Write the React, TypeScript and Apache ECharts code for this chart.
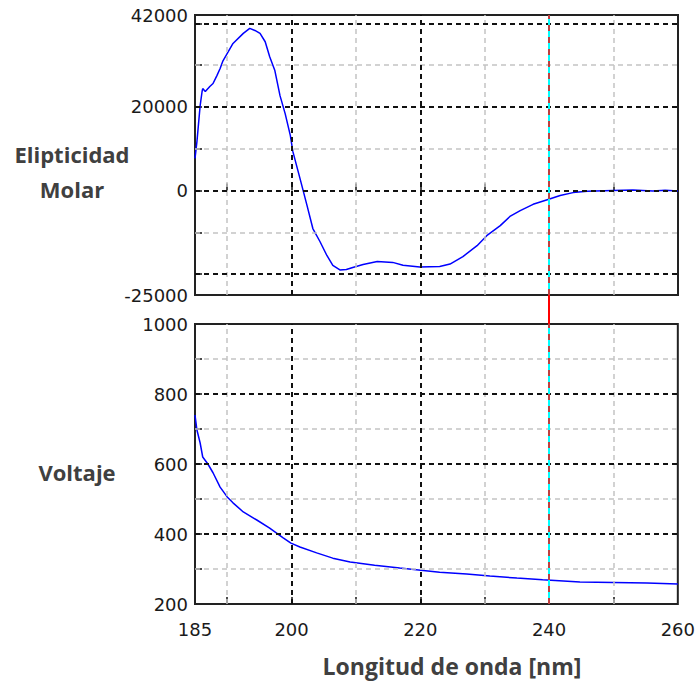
import React, { useEffect, useRef } from "react";
import * as echarts from "echarts";

// ---- Data ----
const cdWavelength = [
  185.0, 185.3, 185.8, 186.1, 186.2, 186.6, 187.3, 187.8, 188.4, 188.9, 189.3,
  190.9, 192.5, 193.5, 194.3, 195.1, 195.9, 196.6, 197.4, 198.2, 199.0, 199.8,
  200.2, 201.3, 202.4, 203.3, 204.4, 205.5, 206.4, 207.5, 208.5, 209.5, 211.1,
  213.3, 215.7, 217.3, 219.9, 223.0, 224.6, 226.6, 228.8, 230.3, 232.4, 233.9,
  235.5, 237.5, 239.7, 241.7, 243.7, 245.9, 249.9, 253.0, 256.1, 258.0, 260.0,
];
const cdValues = [
  7700, 11700, 20300, 23700, 24400, 23700, 24900, 25600, 27500, 29200, 30900,
  35200, 37600, 38800, 38300, 37600, 35600, 32000, 28700, 22700, 18400, 13200,
  9300, 2900, -3600, -9100, -12200, -15600, -17900, -19000, -18900, -18400, -17700,
  -17000, -17200, -17900, -18300, -18200, -17600, -15800, -13200, -10800, -8400, -6200,
  -4800, -3300, -2200, -1200, -500, -200, 0, 100, -100, 50, -100,
];

const voltWavelength = [
  185.0, 185.3, 185.8, 186.2, 187.0, 187.8, 188.9, 190.0, 190.9, 192.5, 194.6,
  196.6, 198.7, 199.9, 201.3, 203.9, 206.4, 209.1, 212.9, 216.8, 223.0, 227.2,
  230.8, 235.0, 239.0, 244.8, 255.2, 260.0,
];
const voltValues = [
  740, 697, 660, 620, 600, 575, 534, 506, 489, 463, 440,
  417, 389, 374, 363, 346, 331, 320, 311, 303, 291, 286,
  280, 274, 269, 263, 260, 257,
];

const xTickValues = [190, 200, 210, 220, 230, 240, 250];
const xLabelValues = [185, 200, 220, 240, 260];
const xMajorGrid = [200, 220, 240];
const xMinorGrid = [190, 210, 230, 250];

const cdTickValues = [-20000, -10000, 0, 10000, 20000, 30000, 40000];
const cdLabelValues = [-25000, 0, 20000, 42000];
const cdMajorGrid = [-20000, 0, 20000, 40000];
const cdMinorGrid = [-10000, 10000, 30000];

const voltTickValues = [300, 400, 500, 600, 700, 800, 900];
const voltLabelValues = [200, 400, 600, 800, 1000];
const voltMajorGrid = [400, 600, 800];
const voltMinorGrid = [300, 500, 700, 900];

const cursorWavelength = 240;

const topYLabel = ["Elipticidad", "Molar"];
const bottomYLabel = "Voltaje";
const xAxisTitle = "Longitud de onda [nm]";

// ---- Styles ----
const majorStyle = { color: "#111", width: 2, type: [5, 4] as any };
const minorStyle = { color: "#c4c4c4", width: 1.5, type: [5, 4] as any };
const labelFont = {
  fontFamily: "DejaVu Sans",
  fontSize: 18,
  color: "#1a1a1a",
};
const titleFont = {
  fontFamily: "Open Sans",
  fontWeight: "bold",
  fontSize: 22,
  fill: "#404040",
};

function gridMarkLine(xMaj: number[], xMin: number[], yMaj: number[], yMin: number[]) {
  return {
    silent: true,
    symbol: ["none", "none"],
    label: { show: false },
    animation: false,
    data: [
      ...yMin.map((v) => ({ yAxis: v, lineStyle: minorStyle })),
      ...xMin.map((v) => ({ xAxis: v, lineStyle: minorStyle })),
      ...yMaj.map((v) => ({ yAxis: v, lineStyle: majorStyle })),
      ...xMaj.map((v) => ({ xAxis: v, lineStyle: majorStyle })),
    ],
  };
}

function cursorMarkLine() {
  return {
    silent: true,
    symbol: ["none", "none"],
    label: { show: false },
    animation: false,
    data: [
      { xAxis: cursorWavelength, lineStyle: { color: "#00ffff", width: 2, type: "solid" } },
      { xAxis: cursorWavelength, lineStyle: { color: "#ff0000", width: 1.5, type: [6, 6] } },
    ],
  };
}

export default function App() {
  const ref = useRef<HTMLDivElement>(null);

  useEffect(() => {
    if (!ref.current) return;
    const chart = echarts.init(ref.current, null, { renderer: "svg" });

    const xBase = {
      type: "value",
      min: 185,
      max: 260,
      axisLine: { show: false },
      splitLine: { show: false },
      axisTick: {
        show: true,
        inside: true,
        length: 7,
        customValues: xTickValues,
        lineStyle: { color: "#111", width: 1.5 },
      },
    };

    const option: any = {
      animation: false,
      backgroundColor: "#ffffff",
      grid: [
        { left: 195, top: 15, width: 483, height: 280, show: true, borderColor: "#222", borderWidth: 2, backgroundColor: "transparent" },
        { left: 195, top: 324, width: 483, height: 280, show: true, borderColor: "#222", borderWidth: 2, backgroundColor: "transparent" },
        { left: 195, top: 15, width: 483, height: 589, show: false },
      ],
      xAxis: [
        { ...xBase, gridIndex: 0, axisLabel: { show: false } },
        {
          ...xBase,
          gridIndex: 1,
          axisLabel: {
            show: true,
            customValues: xLabelValues,
            margin: 16,
            formatter: (v: number) => String(v),
            ...labelFont,
          },
        },
        { type: "value", gridIndex: 2, min: 185, max: 260, show: false },
      ],
      yAxis: [
        {
          type: "value",
          gridIndex: 0,
          min: -25000,
          max: 42000,
          axisLine: { show: false },
          splitLine: { show: false },
          axisTick: {
            show: true,
            inside: true,
            length: 7,
            customValues: cdTickValues,
            lineStyle: { color: "#111", width: 1.5 },
          },
          axisLabel: {
            show: true,
            customValues: cdLabelValues,
            margin: 7,
            formatter: (v: number) => String(v),
            ...labelFont,
          },
        },
        {
          type: "value",
          gridIndex: 1,
          min: 200,
          max: 1000,
          axisLine: { show: false },
          splitLine: { show: false },
          axisTick: {
            show: true,
            inside: true,
            length: 7,
            customValues: voltTickValues,
            lineStyle: { color: "#111", width: 1.5 },
          },
          axisLabel: {
            show: true,
            customValues: voltLabelValues,
            margin: 7,
            formatter: (v: number) => String(v),
            ...labelFont,
          },
        },
        { type: "value", gridIndex: 2, min: 0, max: 1, show: false },
      ],
      series: [
        {
          type: "line",
          xAxisIndex: 2,
          yAxisIndex: 2,
          data: [],
          z: 1,
          markLine: {
            silent: true,
            symbol: ["none", "none"],
            label: { show: false },
            animation: false,
            data: [{ xAxis: cursorWavelength, lineStyle: { color: "#ff0000", width: 2, type: "solid" } }],
          },
        },
        {
          type: "line",
          xAxisIndex: 0,
          yAxisIndex: 0,
          data: [],
          z: 2,
          markLine: gridMarkLine(xMajorGrid, xMinorGrid, cdMajorGrid, cdMinorGrid),
        },
        {
          type: "line",
          xAxisIndex: 1,
          yAxisIndex: 1,
          data: [],
          z: 2,
          markLine: gridMarkLine(xMajorGrid, xMinorGrid, voltMajorGrid, voltMinorGrid),
        },
        {
          type: "line",
          xAxisIndex: 0,
          yAxisIndex: 0,
          data: [],
          z: 3,
          markLine: cursorMarkLine(),
        },
        {
          type: "line",
          xAxisIndex: 1,
          yAxisIndex: 1,
          data: [],
          z: 3,
          markLine: cursorMarkLine(),
        },
        {
          type: "line",
          xAxisIndex: 0,
          yAxisIndex: 0,
          z: 4,
          showSymbol: false,
          symbol: "none",
          lineStyle: { color: "#0000ff", width: 1.5 },
          data: cdWavelength.map((w, i) => [w, cdValues[i]]),
        },
        {
          type: "line",
          xAxisIndex: 1,
          yAxisIndex: 1,
          z: 4,
          showSymbol: false,
          symbol: "none",
          lineStyle: { color: "#0000ff", width: 1.5 },
          data: voltWavelength.map((w, i) => [w, voltValues[i]]),
        },
      ],
      graphic: [
        { type: "text", x: 72, y: 154, style: { text: topYLabel[0], align: "center", verticalAlign: "middle", ...titleFont } },
        { type: "text", x: 72, y: 189, style: { text: topYLabel[1], align: "center", verticalAlign: "middle", ...titleFont } },
        { type: "text", x: 77, y: 472, style: { text: bottomYLabel, align: "center", verticalAlign: "middle", ...titleFont } },
        { type: "text", x: 452, y: 666, style: { text: xAxisTitle, align: "center", verticalAlign: "middle", ...titleFont, fontSize: 23 } },
      ],
    };

    chart.setOption(option);
    return () => chart.dispose();
  }, []);

  return (
    <div
      ref={ref}
      style={{ position: "fixed", left: 0, top: 0, width: 698, height: 682, background: "#fff" }}
    />
  );
}
